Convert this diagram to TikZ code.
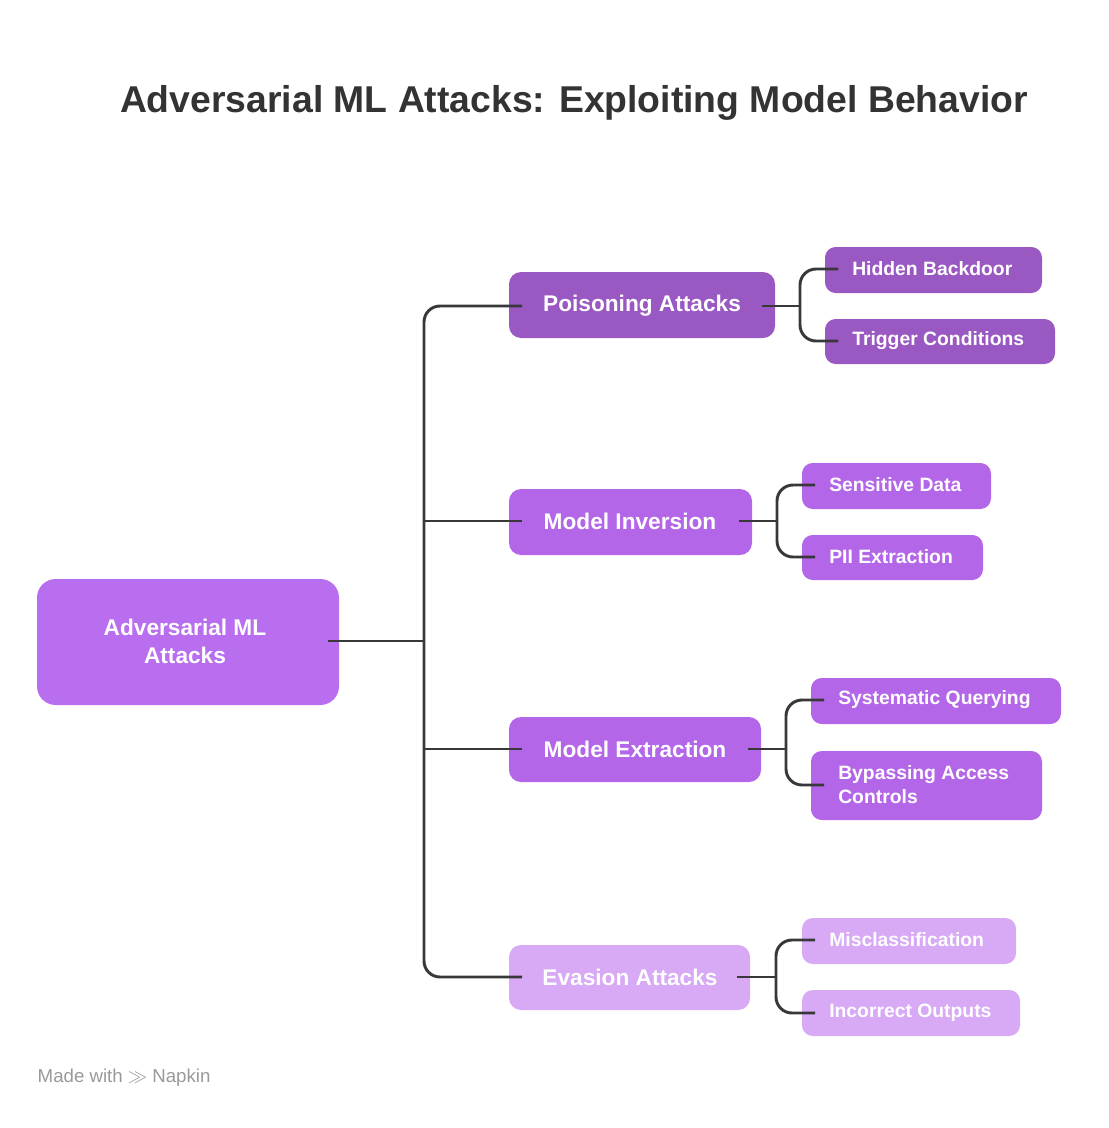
\documentclass[tikz,border=0pt]{standalone}
\usepackage{fontspec}
\setmainfont{Liberation Sans}
\begin{document}
\begin{tikzpicture}[x=0.75pt,y=-0.75pt,
  box/.style={draw=none,text=white,font=\bfseries\fontsize{17}{21}\selectfont,inner sep=0pt},
  small/.style={box,font=\bfseries\fontsize{14.5}{18}\selectfont,anchor=west},
  ln/.style={draw=black!78,line width=2.2pt,rounded corners=12pt}]
\definecolor{cP}{HTML}{9A58C2}
\definecolor{cM}{HTML}{B466E8}
\definecolor{cR}{HTML}{B96EF0}
\definecolor{cE}{HTML}{D8A9F5}
\useasboundingbox (0,0) rectangle (1108,1128);
\node[font=\bfseries\fontsize{28}{32}\selectfont,text=black!80] (title) at (574,103) {Adversarial ML Attacks: Exploiting Model Behavior};
\node[text=black!40,font=\fontsize{14}{16}\selectfont,anchor=west] (napkin) at (33,1078) {Made with \raisebox{0pt}{$\gg$} Napkin};
% boxes
\path[fill=cR,rounded corners=14pt] (37,579) rectangle (339,705);
\path[fill=cP,rounded corners=9pt] (509,272) rectangle (775,338);
\path[fill=cM,rounded corners=9pt] (509,489) rectangle (752,555);
\path[fill=cM,rounded corners=9pt] (509,717) rectangle (761,782);
\path[fill=cE,rounded corners=9pt] (509,945) rectangle (750,1010);
\path[fill=cP,rounded corners=8pt] (825,247) rectangle (1042,293);
\path[fill=cP,rounded corners=8pt] (825,319) rectangle (1055,364);
\path[fill=cM,rounded corners=8pt] (802,463) rectangle (991,509);
\path[fill=cM,rounded corners=8pt] (802,535) rectangle (983,580);
\path[fill=cM,rounded corners=8pt] (811,678) rectangle (1061,724);
\path[fill=cM,rounded corners=8pt] (811,751) rectangle (1042,820);
\path[fill=cE,rounded corners=8pt] (802,918) rectangle (1016,964);
\path[fill=cE,rounded corners=8pt] (802,990) rectangle (1020,1036);
% connectors
\draw[ln] (328,641) -- (424,641);
\draw[ln] (522,306) -- (424,306) -- (424,977) -- (522,977);
\draw[ln] (424,521) -- (522,521);
\draw[ln] (424,749) -- (522,749);
\draw[ln] (762,306) -- (800,306);
\draw[ln] (838,269) -- (800,269) -- (800,341) -- (838,341);
\draw[ln] (739,521) -- (777,521);
\draw[ln] (815,485) -- (777,485) -- (777,557) -- (815,557);
\draw[ln] (748,749) -- (786,749);
\draw[ln] (824,700) -- (786,700) -- (786,785) -- (824,785);
\draw[ln] (737,977) -- (776,977);
\draw[ln] (815,940) -- (776,940) -- (776,1013) -- (815,1013);
% texts
\node[box,align=center] (root) at (185,641) {Adversarial ML\\Attacks};
\node[box] (p) at (642,306) {Poisoning Attacks};
\node[box] (mi) at (630,521) {Model Inversion};
\node[box] (me) at (635,749) {Model Extraction};
\node[box] (ev) at (630,977) {Evasion Attacks};
\node[small] (a1) at (852,269) {Hidden Backdoor};
\node[small] (a2) at (852,341) {Trigger Conditions};
\node[small] (b1) at (829,485) {Sensitive Data};
\node[small] (b2) at (829,557) {PII Extraction};
\node[small] (c1) at (838,700) {Systematic Querying};
\node[small,align=left] (c2) at (838,785) {Bypassing Access\\Controls};
\node[small] (d1) at (829,940) {Misclassification};
\node[small] (d2) at (829,1013) {Incorrect Outputs};
\end{tikzpicture}
\end{document}
